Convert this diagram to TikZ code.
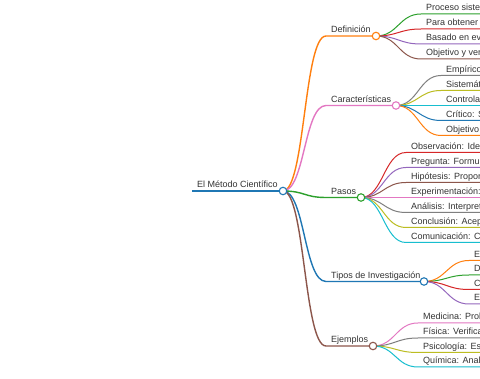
\documentclass[tikz,border=0pt]{standalone}
\usepackage{fontspec}
\setmainfont{Liberation Sans}
\usepackage{xcolor}
\usepackage{tikz}
\usetikzlibrary{backgrounds}
\definecolor{INK}{HTML}{333333}
\definecolor{BLUE}{HTML}{1F77B4}
\definecolor{ORANGE}{HTML}{FF7F0E}
\definecolor{GREEN}{HTML}{2CA02C}
\definecolor{RED}{HTML}{D62728}
\definecolor{PURPLE}{HTML}{9467BD}
\definecolor{BROWN}{HTML}{8C564B}
\definecolor{PINK}{HTML}{E377C2}
\definecolor{GRAY}{HTML}{7F7F7F}
\definecolor{OLIVE}{HTML}{BCBD22}
\definecolor{CYAN}{HTML}{17BECF}

\begin{document}
\begin{tikzpicture}[
  x=1pt, y=-1pt,
  font=\fontsize{9}{11}\selectfont,
  lbl/.style={anchor=base west, inner sep=0pt, text=INK, xshift=5pt, yshift=3.2pt},
  knob/.style={circle, draw, fill=white, line width=1.1pt, minimum size=7.5pt, inner sep=0pt},
  trunk/.style={line width=1.8pt},
  limb/.style={line width=1.4pt},
  twig/.style={line width=1pt},
  link/.style={out=0, in=180, distance=22pt},
]
\useasboundingbox (0,0) rectangle (480,379);
\clip (0,0) rectangle (480,379);
\coordinate (edge) at (490,0);

% ---- root -----------------------------------------------------------------
\coordinate (root-l) at (192,191);
\node[lbl] (root-t) at (root-l) {El Método Científico};
\node[knob, draw=BLUE] (root) at (283,191) {};

% ---- main branches --------------------------------------------------------
\coordinate (def-l) at (326,36);
\node[lbl] (def-t) at (def-l) {Definición};
\node[knob, draw=ORANGE] (def) at (376,36) {};

\coordinate (car-l) at (326,105.5);
\node[lbl] (car-t) at (car-l) {Características};
\node[knob, draw=PINK] (car) at (396,105.5) {};

\coordinate (pas-l) at (326,197.5);
\node[lbl] (pas-t) at (pas-l) {Pasos};
\node[knob, draw=GREEN] (pas) at (361,197.5) {};

\coordinate (tip-l) at (326,281.5);
\node[lbl] (tip-t) at (tip-l) {Tipos de Investigación};
\node[knob, draw=BLUE] (tip) at (424,281.5) {};

\coordinate (eje-l) at (326,346);
\node[lbl] (eje-t) at (eje-l) {Ejemplos};
\node[knob, draw=BROWN] (eje) at (373,346) {};

% ---- leaves: Definición ---------------------------------------------------
\coordinate (d1) at (421,14);   \node[lbl] (d1-t) at (d1) {Proceso siste};
\coordinate (d2) at (421,29);   \node[lbl] (d2-t) at (d2) {Para obtener};
\coordinate (d3) at (421,44);   \node[lbl] (d3-t) at (d3) {Basado en ev};
\coordinate (d4) at (421,59);   \node[lbl] (d4-t) at (d4) {Objetivo y ver};

% ---- leaves: Características ----------------------------------------------
\coordinate (c1) at (441,75.5);  \node[lbl] (c1-t) at (c1) {Empírico};
\coordinate (c2) at (441,90.5);  \node[lbl] (c2-t) at (c2) {Sistemát};
\coordinate (c3) at (441,105.5); \node[lbl] (c3-t) at (c3) {Controla};
\coordinate (c4) at (441,120.5); \node[lbl] (c4-t) at (c4) {Crítico: S};
\coordinate (c5) at (441,135.5); \node[lbl] (c5-t) at (c5) {Objetivo};

% ---- leaves: Pasos --------------------------------------------------------
\coordinate (p1) at (406,152.5); \node[lbl] (p1-t) at (p1) {Observación: Ide};
\coordinate (p2) at (406,167.5); \node[lbl] (p2-t) at (p2) {Pregunta: Formul};
\coordinate (p3) at (406,182.5); \node[lbl] (p3-t) at (p3) {Hipótesis: Propor};
\coordinate (p4) at (406,197.5); \node[lbl] (p4-t) at (p4) {Experimentación:};
\coordinate (p5) at (406,212.5); \node[lbl] (p5-t) at (p5) {Análisis: Interpret};
\coordinate (p6) at (406,227.5); \node[lbl] (p6-t) at (p6) {Conclusión: Acep};
\coordinate (p7) at (406,242.5); \node[lbl] (p7-t) at (p7) {Comunicación: Co};

% ---- leaves: Tipos de Investigación ---------------------------------------
\coordinate (t1) at (469,260.5); \node[lbl] (t1-t) at (t1) {E};
\coordinate (t2) at (469,275);   \node[lbl] (t2-t) at (t2) {D};
\coordinate (t3) at (469,289.5); \node[lbl] (t3-t) at (t3) {C};
\coordinate (t4) at (469,304);   \node[lbl] (t4-t) at (t4) {E};

% ---- leaves: Ejemplos -----------------------------------------------------
\coordinate (e1) at (418,323);   \node[lbl] (e1-t) at (e1) {Medicina: Prob};
\coordinate (e2) at (418,338);   \node[lbl] (e2-t) at (e2) {Física: Verifica};
\coordinate (e3) at (418,352.5); \node[lbl] (e3-t) at (e3) {Psicología: Es};
\coordinate (e4) at (418,367);   \node[lbl] (e4-t) at (e4) {Química: Anali};

% ---- links and underlines -------------------------------------------------
\begin{scope}[on background layer]
\fill[white] (0,0) rectangle (480,379);
\draw[trunk, BLUE] (root-l) -- (root.center);

\draw[limb, ORANGE] (root.center) to[link] (def-l) -- (def.center);
\draw[limb, PINK]   (root.center) to[link] (car-l) -- (car.center);
\draw[limb, GREEN]  (root.center) to[link] (pas-l) -- (pas.center);
\draw[limb, BLUE]   (root.center) to[link] (tip-l) -- (tip.center);
\draw[limb, BROWN]  (root.center) to[link] (eje-l) -- (eje.center);

\draw[twig, GREEN]  (def.center) to[link] (d1) -- (d1 -| edge);
\draw[twig, RED]    (def.center) to[link] (d2) -- (d2 -| edge);
\draw[twig, PURPLE] (def.center) to[link] (d3) -- (d3 -| edge);
\draw[twig, BROWN]  (def.center) to[link] (d4) -- (d4 -| edge);

\draw[twig, GRAY]   (car.center) to[link] (c1) -- (c1 -| edge);
\draw[twig, OLIVE]  (car.center) to[link] (c2) -- (c2 -| edge);
\draw[twig, CYAN]   (car.center) to[link] (c3) -- (c3 -| edge);
\draw[twig, BLUE]   (car.center) to[link] (c4) -- (c4 -| edge);
\draw[twig, ORANGE] (car.center) to[link] (c5) -- (c5 -| edge);

\draw[twig, RED]    (pas.center) to[link] (p1) -- (p1 -| edge);
\draw[twig, PURPLE] (pas.center) to[link] (p2) -- (p2 -| edge);
\draw[twig, BROWN]  (pas.center) to[link] (p3) -- (p3 -| edge);
\draw[twig, PINK]   (pas.center) to[link] (p4) -- (p4 -| edge);
\draw[twig, GRAY]   (pas.center) to[link] (p5) -- (p5 -| edge);
\draw[twig, OLIVE]  (pas.center) to[link] (p6) -- (p6 -| edge);
\draw[twig, CYAN]   (pas.center) to[link] (p7) -- (p7 -| edge);

\draw[twig, ORANGE] (tip.center) to[link] (t1) -- (t1 -| edge);
\draw[twig, GREEN]  (tip.center) to[link] (t2) -- (t2 -| edge);
\draw[twig, RED]    (tip.center) to[link] (t3) -- (t3 -| edge);
\draw[twig, PURPLE] (tip.center) to[link] (t4) -- (t4 -| edge);

\draw[twig, PINK]   (eje.center) to[link] (e1) -- (e1 -| edge);
\draw[twig, GRAY]   (eje.center) to[link] (e2) -- (e2 -| edge);
\draw[twig, OLIVE]  (eje.center) to[link] (e3) -- (e3 -| edge);
\draw[twig, CYAN]   (eje.center) to[link] (e4) -- (e4 -| edge);
\end{scope}

\end{tikzpicture}
\end{document}
